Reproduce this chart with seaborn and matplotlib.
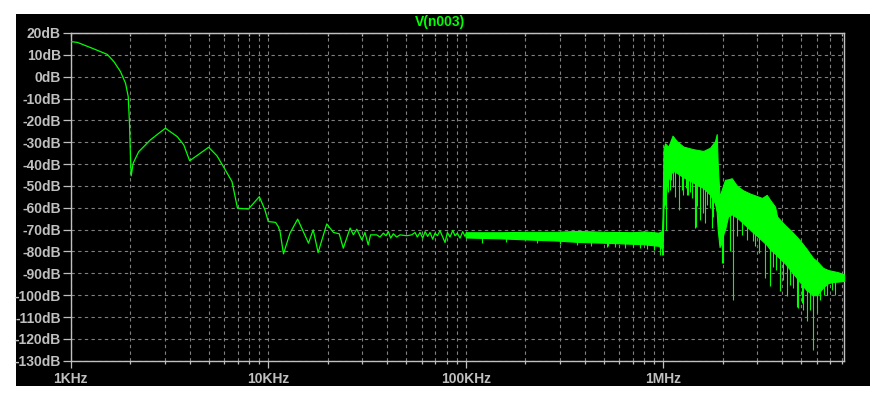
import numpy as np
import pandas as pd
import matplotlib
matplotlib.use("Agg")
import matplotlib.pyplot as plt
from matplotlib.ticker import LogLocator, NullFormatter
import seaborn as sns

# ---------------- data ----------------
title = "V(n003)"

# low-frequency trace (Hz, dB)
curve_freq = [1000, 1012, 1081, 1146, 1287, 1533, 1655, 1788, 1896, 1956, 1985,
              2009, 2025, 2072, 2212, 2535, 2794, 3018, 3461, 3737, 4003, 4537,
              4995, 5503, 6059, 6558, 6992, 7946, 9020, 9630, 10010, 10900,
              11250, 11485, 11950, 12900, 14100, 16000, 16900, 17900, 19800,
              21400, 22900, 24000, 26000, 27000, 28100, 29800, 30900, 32100,
              33000, 35400, 36800, 38300, 39500, 40600, 41700, 43000, 44700,
              46500, 50300, 53300, 55400, 56900, 58700, 60600, 62300, 64200,
              66000, 68100, 69900, 71900, 74100, 76500, 78600, 80800, 83300,
              86000, 88300, 90700, 93600, 96600, 99200, 101000]
curve_db = [16.0, 16.0, 15.7, 14.8, 13.0, 10.2, 6.9, 2.3, -3.0, -9.1, -21.3,
            -37.3, -45.4, -39.6, -34.3, -28.9, -25.9, -23.6, -27.4, -31.2, -38.5,
            -35.0, -32.3, -36.2, -42.6, -48.0, -60.2, -60.6, -54.9, -61.0, -66.3,
            -66.7, -68.6, -70.9, -81.1, -71.6, -65.2, -76.2, -70.1, -80.5, -67.4,
            -71.3, -71.9, -78.5, -69.3, -72.4, -69.8, -74.7, -71.3, -77.0,
            -72.4, -72.4, -73.4, -71.6, -72.8, -70.9, -73.9, -71.9, -73.4,
            -72.4, -72.8, -72.4, -71.3, -73.4, -71.3, -73.9, -70.9, -73.1,
            -71.3, -74.4, -71.6, -72.8, -70.5, -73.4, -75.9, -71.3, -73.4,
            -70.4, -72.8, -71.6, -73.9, -70.9, -73.1, -71.6]

# dense noise band (Hz, upper dB, lower dB)
band_freq = [100e3, 150e3, 204e3, 288e3, 365e3, 500e3, 706e3, 800e3, 945e3,
             985e3, 992e3, 1.004e6, 1.022e6, 1.046e6, 1.062e6, 1.115e6,
             1.171e6, 1.265e6, 1.421e6, 1.597e6, 1.727e6, 1.83e6, 1.866e6,
             1.888e6, 1.929e6, 1.974e6, 2.016e6, 2.056e6, 2.129e6, 2.223e6,
             2.365e6, 2.537e6, 2.752e6, 2.951e6, 3.166e6, 3.344e6, 3.475e6,
             3.684e6, 3.771e6, 4.14e6, 4.492e6, 4.93e6, 5.287e6, 5.737e6,
             6.01e6, 6.446e6, 6.834e6, 7.244e6, 7.68e6, 8.23e6]
band_upper = [-71.2, -71.2, -71.0, -71.0, -70.6, -71.0, -71.2, -70.8, -71.4,
              -70.7, -64.0, -33.0, -30.5, -31.5, -32.0, -27.0,
              -29.5, -32.0, -33.2, -34.0, -32.5, -29.5, -26.3,
              -40.0, -55.0, -52.0, -49.5, -47.2, -47.0, -46.5,
              -50.0, -52.0, -53.5, -54.5, -55.5, -54.1, -56.4,
              -59.5, -64.0, -68.0, -71.0, -75.0, -78.5, -83.0,
              -84.5, -87.5, -88.5, -89.0, -89.5, -90.5]
band_lower = [-73.6, -74.0, -74.5, -75.0, -75.6, -76.0, -76.5, -76.7, -77.4,
              -78.5, -81.5, -60.0, -58.0, -49.0, -47.0, -43.0,
              -44.0, -46.0, -48.5, -51.0, -54.0, -58.0, -62.0,
              -70.0, -78.0, -76.0, -72.0, -70.0, -64.0, -63.0,
              -64.5, -67.0, -70.0, -72.5, -75.0, -77.0, -79.0,
              -81.0, -82.0, -85.5, -89.5, -94.0, -97.5, -100.0,
              -100.0, -96.5, -94.5, -94.0, -93.8, -93.5]

# isolated downward spikes (Hz, dB)
spike_freq = [120.5e3, 160e3, 230e3, 300e3, 365e3, 430e3, 518e3, 528e3, 570e3,
              640e3, 701e3, 760e3, 825e3, 900e3, 964e3,
              1.033e6, 1.062e6, 1.083e6, 1.092e6, 1.125e6, 1.152e6, 1.207e6,
              1.241e6, 1.265e6, 1.305e6, 1.315e6, 1.341e6, 1.367e6, 1.394e6,
              1.449e6, 1.458e6, 1.489e6, 1.537e6, 1.586e6, 1.628e6, 1.673e6,
              1.727e6, 1.761e6, 1.794e6,
              1.979e6, 2.016e6, 2.18e6, 2.265e6, 2.357e6, 2.498e6, 2.648e6,
              2.84e6, 2.917e6, 3.068e6, 3.279e6, 3.475e6, 3.586e6, 3.727e6,
              3.905e6, 4.059e6, 4.252e6, 4.388e6, 4.56e6, 4.745e6, 4.831e6,
              5.029e6, 5.123e6, 5.369e6, 5.539e6, 5.754e6, 5.99e6, 6.223e6,
              6.523e6, 6.73e6, 7.135e6, 7.41e6]
spike_db = [-76.0, -75.5, -76.0, -76.5, -77.0, -77.5, -77.9, -77.7, -78.0,
            -78.5, -78.0, -78.5, -79.0, -79.5, -81.5,
            -70.1, -52.6, -52.0, -47.2, -50.3, -54.9, -61.0,
            -51.8, -54.1, -51.0, -54.0, -54.1, -52.6, -55.6,
            -69.3, -69.0, -59.4, -65.5, -62.5, -67.0, -58.7,
            -60.2, -69.3, -64.0,
            -85.3, -85.3, -80.0, -102.0, -73.1, -72.4, -74.7,
            -75.4, -77.7, -80.8, -92.0, -96.0, -86.9, -88.4,
            -98.3, -93.0, -100.6, -95.2, -96.8, -105.2, -106.0,
            -103.6, -106.7, -112.0, -106.7, -125.0, -108.0, -102.1,
            -99.8, -100.0, -97.5, -99.8]

x_ticks = [1e3, 1e4, 1e5, 1e6]
x_labels = ["1KHz", "10KHz", "100KHz", "1MHz"]
y_ticks = list(range(20, -131, -10))
y_labels = [f"{v}dB" for v in y_ticks]

# ---------------- style ----------------
sns.set_style("dark")
plt.rcParams['font.family'] = ['Liberation Sans', 'DejaVu Sans']
GREEN = "#00ff00"
GRAY = "#c0c0c0"
GRID = "#808080"

W, H = 880, 413
fig = plt.figure(figsize=(W / 100, H / 100), dpi=100, facecolor="white")

# black panel behind the plot
bg = fig.add_axes([16 / W, (H - 386) / H, (870 - 16) / W, (386 - 14) / H], zorder=-5)
bg.set_facecolor("black")
bg.set_xticks([])
bg.set_yticks([])
for s in bg.spines.values():
    s.set_visible(False)

left, right, top, bottom = 70.67, 844, 33, 360.7
ax = fig.add_axes([left / W, (H - bottom) / H, (right - left) / W, (bottom - top) / H],
                  zorder=1)
ax.set_facecolor("black")
ax.set_xscale("log")

df_curve = pd.DataFrame({"f": curve_freq, "db": curve_db})
sns.lineplot(data=df_curve, x="f", y="db", ax=ax, color=GREEN, lw=0.9,
             sort=False, estimator=None, zorder=3)

ax.fill_between(band_freq, band_lower, band_upper, color=GREEN, lw=0.8,
                edgecolor=GREEN, zorder=3)
lf = np.log10(band_freq)
spike_top = np.interp(np.log10(spike_freq), lf, band_lower) + 1.0
ax.vlines(spike_freq, spike_db, spike_top, color=GREEN, lw=0.8, zorder=3)

ax.set_xlim(1e3, 8.23e6)
ax.set_ylim(-130, 20)

ax.set_xticks(x_ticks)
ax.set_xticklabels(x_labels)
ax.xaxis.set_minor_locator(LogLocator(base=10, subs=np.arange(2, 10)))
ax.xaxis.set_minor_formatter(NullFormatter())
ax.set_yticks(y_ticks)
ax.set_yticklabels(y_labels)

ax.grid(True, which="major", axis="both", color=GRID, ls=(0, (3, 3)), lw=0.8)
ax.grid(True, which="minor", axis="x", color=GRID, ls=(0, (3, 3)), lw=0.8)

for s in ax.spines.values():
    s.set_visible(True)
    s.set_color(GRAY)
    s.set_linewidth(1.0)

ax.tick_params(axis="y", which="major", left=True, length=6, width=0.9, color=GRAY,
               direction="out", pad=1, labelsize=10, labelcolor=GRAY)
ax.tick_params(axis="x", which="major", bottom=True, length=5, width=0.9, color=GRAY,
               direction="out", pad=3, labelsize=10, labelcolor=GRAY)
ax.tick_params(axis="x", which="minor", bottom=True, length=2.5, width=0.9, color=GRAY,
               direction="out")
for lab in ax.get_xticklabels() + ax.get_yticklabels():
    lab.set_fontweight("bold")

# small inward ticks along the top edge
top_ax = ax.secondary_xaxis("top")
top_ax.set_xticks(x_ticks)
top_ax.xaxis.set_minor_locator(LogLocator(base=10, subs=np.arange(2, 10)))
top_ax.xaxis.set_minor_formatter(NullFormatter())
top_ax.tick_params(which="both", direction="in", length=2.5, width=0.9, color=GRAY,
                   labeltop=False)
top_ax.spines["top"].set_color(GRAY)

ax.set_xlabel("")
ax.set_ylabel("")

fig.text(0.5, (H - 22) / H, title, ha="center", va="center",
         color=GREEN, fontsize=10, fontweight="bold", zorder=5)

fig.savefig("out.png", dpi=100, facecolor="white")
